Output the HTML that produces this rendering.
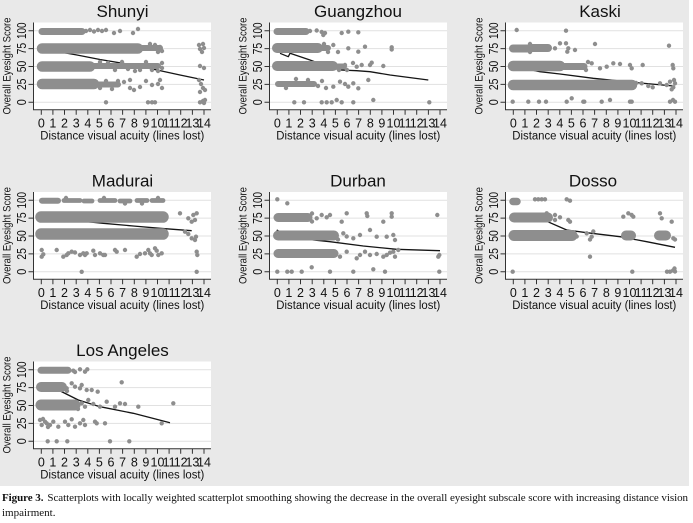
<!DOCTYPE html>
<html><head><meta charset="utf-8">
<style>
html,body{margin:0;padding:0;background:#fff;}
svg{display:block;}
text{font-family:"Liberation Sans",Arial,sans-serif;fill:#111;}
.ti{font-size:17px;text-anchor:middle;}
.yt text{font-size:12.5px;text-anchor:middle;}
.yl{font-size:11px;text-anchor:middle;}
.xt text{font-size:12.5px;text-anchor:middle;}
.xl{font-size:11.5px;text-anchor:middle;}
.d{stroke:#8e8e8e;stroke-linecap:round;fill:none;}
.p{stroke:#8e8e8e;stroke-linecap:round;fill:none;stroke-width:4.4;}
.ln{stroke:#151515;stroke-width:1.3;fill:none;stroke-linejoin:round;}
.cap{font-family:"Liberation Serif","Times New Roman",serif;font-size:11px;fill:#111;}
</style></head>
<body>
<svg width="693" height="523" viewBox="0 0 693 523" xmlns="http://www.w3.org/2000/svg">
<defs>
<g id="fr">
<rect x="34" y="22.5" width="177" height="87.5" fill="#fff"/>
<path d="M34 30.7H211M34 48.6H211M34 66.5H211M34 84.4H211M34 102.3H211" stroke="#e1e1e1" stroke-width="1"/>
<path d="M33.5 22.5V110.2M28.5 30.7H33.5M28.5 48.6H33.5M28.5 66.5H33.5M28.5 84.4H33.5M28.5 102.3H33.5M33 109.7H211M41.3 109.7v5M52.9 109.7v5M64.5 109.7v5M76.2 109.7v5M87.8 109.7v5M99.4 109.7v5M111 109.7v5M122.6 109.7v5M134.3 109.7v5M145.9 109.7v5M157.5 109.7v5M169.1 109.7v5M180.7 109.7v5M192.4 109.7v5M204 109.7v5" stroke="#333" stroke-width="1" fill="none"/>
</g>
</defs>
<rect x="0" y="0" width="689" height="486" fill="#e9e9e9"/>

<!-- Shunyi -->
<g transform="translate(0,0)">
<use href="#fr"/>
<path class="ln" d="M41 48L57 51.5L77 55L100 59.5L133 65L157 70L180 75L204 80"/>
<path class="d" stroke-width="7" d="M42 31.5H82"/>
<path class="d" stroke-width="10.5" d="M42 48.5H138M42 66.5H90M42 84H94"/>
<path class="d" stroke-width="6" d="M138 48H160M90 66H158M94 84.5H118"/>
<path class="p" d="M86 31h0M90 30h0M94 31.5h0M98 30h0M102 31h0M106 30h0M114 33h0M120 31h0M133 33h0M138 29h0M150 44h0M155 45h0M160 47h0M162 51h0M158 52h0M199 45h0M203 44h0M200 49h0M204 48h0M202 52h0M100 62h0M108 63h0M115 70h0M122 62h0M128 69h0M135 71h0M140 70h0M146 62h0M152 70h0M158 71h0M162 63h0M162 68h0M200 66h0M204 68h0M100 88h0M106 81h0M112 89h0M118 81h0M124 82h0M130 88h0M134 90h0M140 87h0M146 81h0M152 85h0M158 84h0M162 88h0M160 80h0M199 80h0M201 84h0M203 88h0M205 90h0M200 92h0M130 80h0M106 102.3h0M148 102.3h0M152 102.3h0M155 102.3h0M200 102.3h0M203 101h0M205 100h0M204 103h0"/>
<text class="ti" x="122.5" y="16.8">Shunyi</text>
<g class="yt"><text transform="translate(26,102.3) rotate(-90)" textLength="6" lengthAdjust="spacingAndGlyphs">0</text><text transform="translate(26,84.4) rotate(-90)" textLength="11.5" lengthAdjust="spacingAndGlyphs">25</text><text transform="translate(26,66.5) rotate(-90)" textLength="11.5" lengthAdjust="spacingAndGlyphs">50</text><text transform="translate(26,48.6) rotate(-90)" textLength="11.5" lengthAdjust="spacingAndGlyphs">75</text><text transform="translate(26,30.7) rotate(-90)" textLength="16.5" lengthAdjust="spacingAndGlyphs">100</text></g>
<text class="yl" transform="translate(10.5,66) rotate(-90)" textLength="97" lengthAdjust="spacingAndGlyphs">Overall Eyesight Score</text>
<g class="xt"><text x="41.3" y="127.3">0</text><text x="52.9" y="127.3">1</text><text x="64.5" y="127.3">2</text><text x="76.2" y="127.3">3</text><text x="87.8" y="127.3">4</text><text x="99.4" y="127.3">5</text><text x="111" y="127.3">6</text><text x="122.6" y="127.3">7</text><text x="134.3" y="127.3">8</text><text x="145.9" y="127.3">9</text><text x="157.5" y="127.3">10</text><text x="169.1" y="127.3">11</text><text x="180.7" y="127.3">12</text><text x="192.4" y="127.3">13</text><text x="204" y="127.3">14</text></g>
<text class="xl" x="122.3" y="139.5" textLength="164" lengthAdjust="spacingAndGlyphs">Distance visual acuity (lines lost)</text>
</g>

<!-- Guangzhou -->
<g transform="translate(236,0)">
<use href="#fr"/>
<path class="ln" d="M44 53.3L52.3 56.7L54 53.3L74 60L87.3 65L104 70L120.7 70.7L134 71.7L154 75L192.3 80"/>
<path class="d" stroke-width="7" d="M41 31.5H70"/>
<path class="d" stroke-width="10" d="M41 48H82M41 66H97"/>
<path class="d" stroke-width="6" d="M82 48H92M97 66.5H108M42 84H78"/>
<path class="p" d="M74 31h0M80.7 30.5h0M85.7 32h0M89 33h0M87.3 35h0M105.7 33h0M112.3 31.7h0M122.3 32.3h0M97.3 45h0M102 52h0M112.3 48.3h0M122.3 51.7h0M129 46.7h0M155.7 47.3h0M155.7 49.5h0M88 44h0M92 52h0M109 65h0M117 63h0M120.7 66.7h0M125.7 65h0M134 65h0M147.3 66h0M135.7 62.7h0M103 70h0M111 70h0M82 86h0M86 81h0M90 88h0M97.3 86.7h0M104 81.7h0M109 84h0M112.3 86.7h0M117.3 83.3h0M122.3 88.3h0M132.3 80h0M60 79h0M72 80h0M50 88h0M58.3 102.3h0M68 102.3h0M85.7 102.3h0M90.7 102.3h0M95.7 102.3h0M100.7 100h0M105.7 102.3h0M117.3 102.3h0M137.3 100h0M193.3 102.3h0"/>
<text class="ti" x="122" y="16.8">Guangzhou</text>
<g class="yt"><text transform="translate(26,102.3) rotate(-90)" textLength="6" lengthAdjust="spacingAndGlyphs">0</text><text transform="translate(26,84.4) rotate(-90)" textLength="11.5" lengthAdjust="spacingAndGlyphs">25</text><text transform="translate(26,66.5) rotate(-90)" textLength="11.5" lengthAdjust="spacingAndGlyphs">50</text><text transform="translate(26,48.6) rotate(-90)" textLength="11.5" lengthAdjust="spacingAndGlyphs">75</text><text transform="translate(26,30.7) rotate(-90)" textLength="16.5" lengthAdjust="spacingAndGlyphs">100</text></g>
<text class="yl" transform="translate(10.5,66) rotate(-90)" textLength="97" lengthAdjust="spacingAndGlyphs">Overall Eyesight Score</text>
<g class="xt"><text x="41.3" y="127.3">0</text><text x="52.9" y="127.3">1</text><text x="64.5" y="127.3">2</text><text x="76.2" y="127.3">3</text><text x="87.8" y="127.3">4</text><text x="99.4" y="127.3">5</text><text x="111" y="127.3">6</text><text x="122.6" y="127.3">7</text><text x="134.3" y="127.3">8</text><text x="145.9" y="127.3">9</text><text x="157.5" y="127.3">10</text><text x="169.1" y="127.3">11</text><text x="180.7" y="127.3">12</text><text x="192.4" y="127.3">13</text><text x="204" y="127.3">14</text></g>
<text class="xl" x="122.3" y="139.5" textLength="164" lengthAdjust="spacingAndGlyphs">Distance visual acuity (lines lost)</text>
</g>

<!-- Kaski -->
<g transform="translate(472,0)">
<use href="#fr"/>
<path class="ln" d="M41 66L51.3 68.3L68 71.7L88 74L121.3 78.3L154.7 81.7L201.3 86"/>
<path class="d" stroke-width="8" d="M41 48.5H56M60 48H76"/>
<path class="d" stroke-width="10.5" d="M41 66H88M41 85H160"/>
<path class="d" stroke-width="7" d="M88 66.5H112"/>
<path class="p" d="M44.7 30h0M94 30.7h0M83 48.3h0M88 43.3h0M94 43.3h0M95.3 51.7h0M103 50h0M123 44h0M96.3 48.3h0M197 45.7h0M58 44h0M58 52h0M119.7 63.3h0M128 68.3h0M134.7 66.7h0M141.3 63.3h0M148 64h0M158 65h0M159.7 68.3h0M170.7 65h0M200.7 65h0M201.3 68.3h0M114 70h0M116 62h0M164 83h0M169.7 83.3h0M176.3 86h0M180.7 87.3h0M188 83.3h0M194.7 85h0M198 81.7h0M201.3 87.3h0M203 83.3h0M199.7 89.3h0M202 80h0M40.7 101.7h0M56.3 101.7h0M67 101.7h0M74 101.7h0M94.7 101.7h0M99.7 98.3h0M111.3 101.7h0M112.3 101.7h0M129.7 101.7h0M138 100h0M158 101.7h0M159.7 101.7h0M198 101.7h0M203 101.7h0M201 100h0"/>
<text class="ti" x="128" y="16.8">Kaski</text>
<g class="yt"><text transform="translate(26,102.3) rotate(-90)" textLength="6" lengthAdjust="spacingAndGlyphs">0</text><text transform="translate(26,84.4) rotate(-90)" textLength="11.5" lengthAdjust="spacingAndGlyphs">25</text><text transform="translate(26,66.5) rotate(-90)" textLength="11.5" lengthAdjust="spacingAndGlyphs">50</text><text transform="translate(26,48.6) rotate(-90)" textLength="11.5" lengthAdjust="spacingAndGlyphs">75</text><text transform="translate(26,30.7) rotate(-90)" textLength="16.5" lengthAdjust="spacingAndGlyphs">100</text></g>
<text class="yl" transform="translate(10.5,66) rotate(-90)" textLength="97" lengthAdjust="spacingAndGlyphs">Overall Eyesight Score</text>
<g class="xt"><text x="41.3" y="127.3">0</text><text x="52.9" y="127.3">1</text><text x="64.5" y="127.3">2</text><text x="76.2" y="127.3">3</text><text x="87.8" y="127.3">4</text><text x="99.4" y="127.3">5</text><text x="111" y="127.3">6</text><text x="122.6" y="127.3">7</text><text x="134.3" y="127.3">8</text><text x="145.9" y="127.3">9</text><text x="157.5" y="127.3">10</text><text x="169.1" y="127.3">11</text><text x="180.7" y="127.3">12</text><text x="192.4" y="127.3">13</text><text x="204" y="127.3">14</text></g>
<text class="xl" x="122.3" y="139.5" textLength="164" lengthAdjust="spacingAndGlyphs">Distance visual acuity (lines lost)</text>
</g>

<!-- Madurai -->
<g transform="translate(0,169.5)">
<use href="#fr"/>
<path class="ln" d="M41 49L80 51.5L103.3 53.8L133.3 56.5L160 58.8L191.7 61.2"/>
<path class="d" stroke-width="6" d="M42 31.3H58"/>
<path class="d" stroke-width="4.8" d="M64 31H80M84 31.5H92M100 31H115M120 31.5H130M137 31H147M152 31H163"/>
<path class="d" stroke-width="11.5" d="M41 47.5H163M41 64.5H163"/>
<path class="p" d="M180 43.8h0M188.3 48.8h0M193.3 45.5h0M195 50.5h0M191.7 52.2h0M196.7 43.8h0M185 62.2h0M188.3 64.5h0M191.7 68.8h0M195 70.5h0M196 67.2h0M41.7 80.5h0M41.7 87.2h0M43.3 84.8h0M56.7 80.5h0M63.3 87.2h0M66.7 85.5h0M68.3 83.8h0M71.7 82.2h0M75 83h0M80 85.5h0M83.3 83.8h0M85 85.5h0M86.7 83.8h0M93.3 81.2h0M95 85.5h0M100 83.8h0M103.3 85.5h0M105 85.5h0M115 80.5h0M116.7 82.2h0M125 80.5h0M136.7 87.2h0M140 84.5h0M145 83.8h0M148.3 80.5h0M150 83.8h0M151.7 85.5h0M155 78.8h0M156.7 81.2h0M158.3 85.5h0M161.7 83.8h0M196.7 82.2h0M197.3 85.5h0M81.7 102.3h0M196.7 102.3h0M66 28.5h0M104 28.5h0M125 34h0M142 34h0M158 28.5h0"/>
<text class="ti" x="122.5" y="16.8">Madurai</text>
<g class="yt"><text transform="translate(26,102.3) rotate(-90)" textLength="6" lengthAdjust="spacingAndGlyphs">0</text><text transform="translate(26,84.4) rotate(-90)" textLength="11.5" lengthAdjust="spacingAndGlyphs">25</text><text transform="translate(26,66.5) rotate(-90)" textLength="11.5" lengthAdjust="spacingAndGlyphs">50</text><text transform="translate(26,48.6) rotate(-90)" textLength="11.5" lengthAdjust="spacingAndGlyphs">75</text><text transform="translate(26,30.7) rotate(-90)" textLength="16.5" lengthAdjust="spacingAndGlyphs">100</text></g>
<text class="yl" transform="translate(10.5,66) rotate(-90)" textLength="97" lengthAdjust="spacingAndGlyphs">Overall Eyesight Score</text>
<g class="xt"><text x="41.3" y="127.3">0</text><text x="52.9" y="127.3">1</text><text x="64.5" y="127.3">2</text><text x="76.2" y="127.3">3</text><text x="87.8" y="127.3">4</text><text x="99.4" y="127.3">5</text><text x="111" y="127.3">6</text><text x="122.6" y="127.3">7</text><text x="134.3" y="127.3">8</text><text x="145.9" y="127.3">9</text><text x="157.5" y="127.3">10</text><text x="169.1" y="127.3">11</text><text x="180.7" y="127.3">12</text><text x="192.4" y="127.3">13</text><text x="204" y="127.3">14</text></g>
<text class="xl" x="122.3" y="139.5" textLength="164" lengthAdjust="spacingAndGlyphs">Distance visual acuity (lines lost)</text>
</g>

<!-- Durban -->
<g transform="translate(236,169.5)">
<use href="#fr"/>
<path class="ln" d="M40.7 60.5L52.3 67.2L77.3 70.5L94 72.2L127.3 76.5L160.7 79.8L204 81.2"/>
<path class="d" stroke-width="9" d="M42 48H72M42 84H98"/>
<path class="d" stroke-width="10" d="M42 66H98"/>
<path class="p" d="M41.3 29.8h0M51.3 33.8h0M80.7 48.8h0M85.7 45.5h0M90.7 47.8h0M94 45.5h0M105.7 52.2h0M110.7 43.8h0M130.7 43.8h0M131.3 46.5h0M147.3 52.2h0M155.7 47.2h0M155.7 43.8h0M201.3 45.5h0M76 44h0M76 52h0M107.3 63.8h0M110.7 67h0M117.3 68.8h0M124 65.5h0M134 60.5h0M140.7 67.2h0M150.7 67.2h0M157.3 65.5h0M159 70.5h0M102 70h0M104 87.2h0M110.7 82.2h0M120.7 88.8h0M124 85.5h0M129 82.2h0M134 85.5h0M140.7 84.5h0M147.3 87.2h0M150.7 85.5h0M154 83.2h0M157.3 82.2h0M162.3 80.5h0M159 87.2h0M202.3 87.2h0M203.3 85.5h0M41.3 102.2h0M51.3 102.2h0M55.7 102.2h0M65.7 102.2h0M75.7 97.8h0M94 102.2h0M117.3 102.2h0M137.3 99.8h0M149 102.2h0M203.3 102.2h0"/>
<text class="ti" x="122" y="16.8">Durban</text>
<g class="yt"><text transform="translate(26,102.3) rotate(-90)" textLength="6" lengthAdjust="spacingAndGlyphs">0</text><text transform="translate(26,84.4) rotate(-90)" textLength="11.5" lengthAdjust="spacingAndGlyphs">25</text><text transform="translate(26,66.5) rotate(-90)" textLength="11.5" lengthAdjust="spacingAndGlyphs">50</text><text transform="translate(26,48.6) rotate(-90)" textLength="11.5" lengthAdjust="spacingAndGlyphs">75</text><text transform="translate(26,30.7) rotate(-90)" textLength="16.5" lengthAdjust="spacingAndGlyphs">100</text></g>
<text class="yl" transform="translate(10.5,66) rotate(-90)" textLength="97" lengthAdjust="spacingAndGlyphs">Overall Eyesight Score</text>
<g class="xt"><text x="41.3" y="127.3">0</text><text x="52.9" y="127.3">1</text><text x="64.5" y="127.3">2</text><text x="76.2" y="127.3">3</text><text x="87.8" y="127.3">4</text><text x="99.4" y="127.3">5</text><text x="111" y="127.3">6</text><text x="122.6" y="127.3">7</text><text x="134.3" y="127.3">8</text><text x="145.9" y="127.3">9</text><text x="157.5" y="127.3">10</text><text x="169.1" y="127.3">11</text><text x="180.7" y="127.3">12</text><text x="192.4" y="127.3">13</text><text x="204" y="127.3">14</text></g>
<text class="xl" x="122.3" y="139.5" textLength="164" lengthAdjust="spacingAndGlyphs">Distance visual acuity (lines lost)</text>
</g>

<!-- Dosso -->
<g transform="translate(472,169.5)">
<use href="#fr"/>
<path class="ln" d="M41 45L56 44L68 48.8L94.7 60.5L114.7 63.2L148 67.2L174.7 72.2L203 77.8"/>
<path class="d" stroke-width="7.5" d="M41 32H45"/>
<path class="d" stroke-width="10" d="M42 48H76M154 66H159M187 66H194"/>
<path class="d" stroke-width="11" d="M42 66H100"/>
<path class="p" d="M63 29.8h0M66.3 29.8h0M69.7 29.8h0M73 29.8h0M94.7 29.8h0M98 31.2h0M74.7 43.8h0M83 45.5h0M83 50.5h0M88 47.8h0M96.3 50.5h0M98 52.2h0M151.3 47.2h0M156.3 43.8h0M159.7 45.5h0M161.3 47.2h0M188 43.8h0M189.7 48.8h0M199.7 52.2h0M101.3 63.8h0M104.7 67h0M114.7 63.8h0M119.7 67.2h0M121.3 62h0M118 70h0M201.3 68.8h0M203 70h0M118 87.2h0M40.7 102.2h0M160.3 102.2h0M195 102.2h0M198 102.2h0M201 101h0M202.5 99h0M203 102h0"/>
<text class="ti" x="121" y="16.8">Dosso</text>
<g class="yt"><text transform="translate(26,102.3) rotate(-90)" textLength="6" lengthAdjust="spacingAndGlyphs">0</text><text transform="translate(26,84.4) rotate(-90)" textLength="11.5" lengthAdjust="spacingAndGlyphs">25</text><text transform="translate(26,66.5) rotate(-90)" textLength="11.5" lengthAdjust="spacingAndGlyphs">50</text><text transform="translate(26,48.6) rotate(-90)" textLength="11.5" lengthAdjust="spacingAndGlyphs">75</text><text transform="translate(26,30.7) rotate(-90)" textLength="16.5" lengthAdjust="spacingAndGlyphs">100</text></g>
<text class="yl" transform="translate(10.5,66) rotate(-90)" textLength="97" lengthAdjust="spacingAndGlyphs">Overall Eyesight Score</text>
<g class="xt"><text x="41.3" y="127.3">0</text><text x="52.9" y="127.3">1</text><text x="64.5" y="127.3">2</text><text x="76.2" y="127.3">3</text><text x="87.8" y="127.3">4</text><text x="99.4" y="127.3">5</text><text x="111" y="127.3">6</text><text x="122.6" y="127.3">7</text><text x="134.3" y="127.3">8</text><text x="145.9" y="127.3">9</text><text x="157.5" y="127.3">10</text><text x="169.1" y="127.3">11</text><text x="180.7" y="127.3">12</text><text x="192.4" y="127.3">13</text><text x="204" y="127.3">14</text></g>
<text class="xl" x="122.3" y="139.5" textLength="164" lengthAdjust="spacingAndGlyphs">Distance visual acuity (lines lost)</text>
</g>

<!-- Los Angeles -->
<g transform="translate(0,339)">
<use href="#fr"/>
<path class="ln" d="M41 45L58.3 51L78.3 61L100 67.7L133.3 74.3L170 83.7"/>
<path class="d" stroke-width="7" d="M41 31.3H68"/>
<path class="d" stroke-width="10" d="M41 48H62"/>
<path class="d" stroke-width="11" d="M41 66H75"/>
<path class="p" d="M73.3 31.7h0M80 30.3h0M85 32.7h0M87.3 30.3h0M75 33h0M63.3 46h0M66.7 49.3h0M71.7 44.3h0M75 47.7h0M80 49.3h0M81.7 46h0M86.7 51h0M91.7 51h0M97.7 52.7h0M121.7 43.3h0M67 52h0M81.7 64.3h0M85 67.7h0M88.3 61h0M93.3 65h0M100 67.7h0M106.7 62.7h0M115 67.7h0M120 64.3h0M125 65h0M138.3 67.7h0M173.3 64.3h0M78 70h0M40 81h0M41.7 86h0M45 82.7h0M46.7 84.3h0M50 86h0M53.3 82.7h0M58.3 87.7h0M65 82.7h0M68.3 86h0M71.7 80.3h0M75 87.7h0M80 84.3h0M83.3 81h0M85 86h0M95 82.7h0M96.7 84.3h0M105 84.3h0M161.7 84.3h0M43 80h0M48 88h0M47.7 102.3h0M56.7 102.3h0M67.3 102.3h0M110 102.3h0M129.3 102.3h0"/>
<text class="ti" x="122.5" y="16.8">Los Angeles</text>
<g class="yt"><text transform="translate(26,102.3) rotate(-90)" textLength="6" lengthAdjust="spacingAndGlyphs">0</text><text transform="translate(26,84.4) rotate(-90)" textLength="11.5" lengthAdjust="spacingAndGlyphs">25</text><text transform="translate(26,66.5) rotate(-90)" textLength="11.5" lengthAdjust="spacingAndGlyphs">50</text><text transform="translate(26,48.6) rotate(-90)" textLength="11.5" lengthAdjust="spacingAndGlyphs">75</text><text transform="translate(26,30.7) rotate(-90)" textLength="16.5" lengthAdjust="spacingAndGlyphs">100</text></g>
<text class="yl" transform="translate(10.5,66) rotate(-90)" textLength="97" lengthAdjust="spacingAndGlyphs">Overall Eyesight Score</text>
<g class="xt"><text x="41.3" y="127.3">0</text><text x="52.9" y="127.3">1</text><text x="64.5" y="127.3">2</text><text x="76.2" y="127.3">3</text><text x="87.8" y="127.3">4</text><text x="99.4" y="127.3">5</text><text x="111" y="127.3">6</text><text x="122.6" y="127.3">7</text><text x="134.3" y="127.3">8</text><text x="145.9" y="127.3">9</text><text x="157.5" y="127.3">10</text><text x="169.1" y="127.3">11</text><text x="180.7" y="127.3">12</text><text x="192.4" y="127.3">13</text><text x="204" y="127.3">14</text></g>
<text class="xl" x="122.3" y="139.5" textLength="164" lengthAdjust="spacingAndGlyphs">Distance visual acuity (lines lost)</text>
</g>

<!-- Caption -->
<text class="cap" x="2" y="501" textLength="686" lengthAdjust="spacing"><tspan font-weight="bold">Figure 3.</tspan><tspan dx="4">Scatterplots with locally weighted scatterplot smoothing showing the decrease in the overall eyesight subscale score with increasing distance vision</tspan></text>
<text class="cap" x="2" y="516">impairment.</text>
</svg>
</body></html>
